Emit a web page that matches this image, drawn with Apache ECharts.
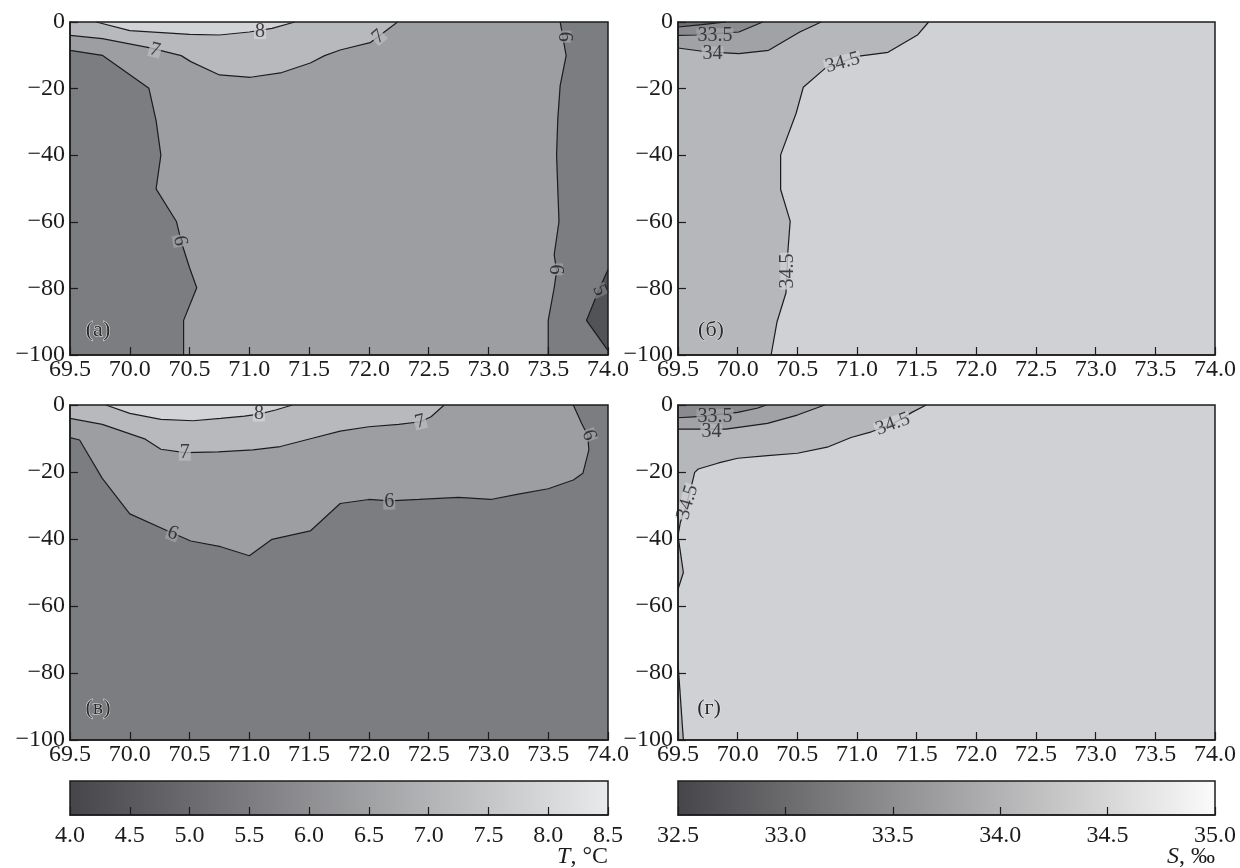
<!DOCTYPE html>
<html><head><meta charset="utf-8">
<script src="https://cdn.jsdelivr.net/npm/echarts/dist/echarts.min.js"></script>
<style>html,body{margin:0;padding:0;background:#fff}#c{width:1240px;height:868px}</style>
</head><body><div id="c"></div>
<script>
// ---------- axes / ticks ----------
const lonTicks = [69.5, 70.0, 70.5, 71.0, 71.5, 72.0, 72.5, 73.0, 73.5, 74.0];
const depthTicks = [-100, -80, -60, -40, -20, 0];
const tTicks = [4.0, 4.5, 5.0, 5.5, 6.0, 6.5, 7.0, 7.5, 8.0, 8.5];
const sTicks = [32.5, 33.0, 33.5, 34.0, 34.5, 35.0];
const panelNames = ['(а)', '(б)', '(в)', '(г)'];
const tUnit = ['T', ', °C'];
const sUnit = ['S', ', ‰'];

// ---------- contour lines [lon, depth] ----------
// panel (а) temperature
const tA8 = [[69.72,0],[70.0,-2.6],[70.5,-3.7],[70.75,-3.9],[71.0,-3.0],[71.19,-1.9],[71.38,0]];
const tA7 = [[69.5,-4.0],[69.77,-5.0],[70.16,-7.7],[70.43,-10.1],[70.51,-11.9],[70.75,-15.9],[71.01,-16.6],[71.26,-15.3],[71.51,-12.3],[71.63,-10.1],[71.76,-8.4],[72.01,-6.2],[72.24,0]];
const tA6L = [[69.5,-8.5],[69.77,-10.0],[70.16,-19.9],[70.22,-29.6],[70.26,-40.0],[70.22,-50.1],[70.39,-59.9],[70.43,-65.9],[70.50,-73.8],[70.56,-79.8],[70.45,-89.6],[70.45,-100]];
const tA6R = [[73.60,0],[73.65,-10.1],[73.60,-19.1],[73.58,-29.1],[73.57,-40],[73.58,-50],[73.59,-59.9],[73.55,-69.9],[73.57,-74.8],[73.55,-79.8],[73.50,-89.6],[73.50,-100]];
const tA5 = [[74.0,-74.3],[73.92,-80.8],[73.82,-89.6],[74.0,-98.7]];
const tALabels = [[71.09,-2.9,'8'],[70.21,-8.4,'7'],[72.08,-4.4,'7'],[70.42,-65.7,'6'],[73.63,-4.4,'6'],[73.56,-74.3,'6'],[73.93,-80.6,'5']];
const tALabelRot = [0,-15,40,-80,-90,-90,-65];

// panel (б) salinity
const sB33 = [[69.5,-1.5],[69.7,-0.8],[69.9,0]];
const sB335 = [[69.5,-4.0],[69.65,-3.9],[70.01,-3.0],[70.21,0]];
const sB34 = [[69.5,-7.8],[69.75,-9.0],[70.01,-9.5],[70.26,-8.5],[70.52,-3.0],[70.70,0]];
const sB345 = [[71.60,0],[71.51,-3.8],[71.26,-9.1],[71.0,-10.3],[70.73,-14.0],[70.55,-19.6],[70.49,-27.4],[70.36,-39.9],[70.36,-50.3],[70.44,-59.8],[70.42,-69.3],[70.405,-81.3],[70.33,-90.0],[70.28,-100]];
const sBLabels = [[69.81,-4.1,'33.5'],[69.79,-9.6,'34'],[70.88,-12.2,'34.5'],[70.42,-74.8,'34.5']];
const sBLabelRot = [0,0,15,90];

// panel (в) temperature
const tC8 = [[69.80,0],[70.0,-2.5],[70.26,-4.3],[70.53,-4.7],[70.76,-4.0],[70.96,-3.3],[71.08,-2.7],[71.22,-1.5],[71.36,0]];
const tC7 = [[69.5,-4.0],[69.77,-5.8],[70.13,-10.2],[70.26,-13.2],[70.46,-14.2],[70.74,-14.0],[71.03,-13.4],[71.26,-12.4],[71.52,-10.0],[71.76,-7.8],[72.0,-6.5],[72.25,-5.8],[72.43,-5.0],[72.52,-3.5],[72.63,0]];
const tC6 = [[69.5,-9.75],[69.58,-10.45],[69.77,-21.9],[70.0,-32.5],[70.30,-37.3],[70.51,-40.6],[70.76,-42.3],[71.0,-45.0],[71.19,-40.1],[71.51,-37.6],[71.76,-29.4],[72.0,-28.2],[72.17,-28.6],[72.42,-28.2],[72.75,-27.6],[73.02,-28.2],[73.25,-26.6],[73.5,-25.0],[73.71,-22.4],[73.79,-20.4],[73.84,-13.4],[73.83,-9.0],[73.78,-5.5],[73.71,0]];
const tCLabels = [[71.08,-2.7,'8'],[70.46,-14.4,'7'],[72.43,-5.0,'7'],[70.36,-38.3,'6'],[72.17,-29.0,'6'],[73.84,-9.0,'6']];
const tCLabelRot = [0,0,15,-20,0,-70];

// panel (г) salinity
const sD335 = [[69.5,-3.8],[69.7,-3.4],[70.0,-2.2],[70.17,-0.9],[70.24,0]];
const sD34 = [[69.5,-7.2],[69.9,-7.2],[70.25,-5.5],[70.5,-3.0],[70.73,0]];
const sD345 = [[71.58,0],[71.46,-2.2],[71.30,-5.7],[71.12,-8.0],[70.95,-9.7],[70.75,-12.6],[70.50,-14.4],[70.25,-15.1],[70.0,-15.9],[69.84,-17.3],[69.67,-19.1],[69.64,-20.1],[69.60,-26.0],[69.56,-31.0],[69.52,-35.0],[69.5,-39.0]];
const sD345b = [[69.5,-39.0],[69.545,-50.0],[69.5,-55.0]];
const sD345c = [[69.5,-77.0],[69.545,-100]];
const sDLabels = [[69.81,-3.4,'33.5'],[69.78,-8.0,'34'],[71.30,-5.7,'34.5'],[69.58,-29.0,'34.5']];
const sDLabelRot = [0,0,20,74];

// ---------- styles ----------
const FONT = 'Liberation Serif';
const INK = '#1c1c1c';
const tBand = {lt5:'#525357', b5:'#7c7d81', b6:'#9d9ea2', b7:'#b8b9bd', b8:'#d2d3d6'};
const sBand = {lt33:'#6e6f73', b33:'#8a8b8f', b335:'#a1a2a6', b34:'#b6b7bb', b345:'#d0d1d4'};
const tLabelBg = {'5':tBand.b5,'6':tBand.b6,'7':tBand.b7,'8':tBand.b8};
const sLabelBg = {'33.5':sBand.b335,'34':sBand.b34,'34.5':sBand.b345};

const X0 = lonTicks[0], X1 = lonTicks[lonTicks.length-1];
const Y0 = depthTicks[0], Y1 = depthTicks[depthTicks.length-1];
const full = [[X0,Y1],[X1,Y1],[X1,Y0],[X0,Y0]];
const TL = [X0,Y1], BL = [X0,Y0], BR = [X1,Y0], TR = [X1,Y1];
const close = (line, corners) => line.concat(corners);

const regions = [
  [ {pts:full,color:tBand.b6},
    {pts:close(tA6L,[BL]),color:tBand.b5},
    {pts:close(tA6R,[BR,TR]),color:tBand.b5},
    {pts:tA5,color:tBand.lt5},
    {pts:close(tA7,[TL]),color:tBand.b7},
    {pts:tA8,color:tBand.b8} ],
  [ {pts:full,color:sBand.b345},
    {pts:close(sB345,[BL,TL]),color:sBand.b34},
    {pts:close(sB34,[TL]),color:sBand.b335},
    {pts:close(sB335,[TL]),color:sBand.b33},
    {pts:close(sB33,[TL]),color:sBand.lt33} ],
  [ {pts:full,color:tBand.b5},
    {pts:close(tC6,[TL]),color:tBand.b6},
    {pts:close(tC7,[TL]),color:tBand.b7},
    {pts:tC8,color:tBand.b8} ],
  [ {pts:full,color:sBand.b345},
    {pts:close(sD345,[TL]),color:sBand.b34},
    {pts:sD345b,color:sBand.b34},
    {pts:close(sD345c,[BL]),color:sBand.b34},
    {pts:close(sD34,[TL]),color:sBand.b335},
    {pts:close(sD335,[TL]),color:sBand.b33} ]
];
const contourLines = [
  [tA8,tA7,tA6L,tA6R,tA5],
  [sB33,sB335,sB34,sB345],
  [tC8,tC7,tC6],
  [sD335,sD34,sD345,sD345b,sD345c]
];
const labelSets = [
  {pts:tALabels, rot:tALabelRot, bg:tLabelBg},
  {pts:sBLabels, rot:sBLabelRot, bg:sLabelBg},
  {pts:tCLabels, rot:tCLabelRot, bg:tLabelBg},
  {pts:sDLabels, rot:sDLabelRot, bg:sLabelBg}
];

const grids = [
  {left:70, top:22, width:538, height:333},
  {left:678, top:22, width:537, height:333},
  {left:70, top:405, width:538, height:335},
  {left:678, top:405, width:537, height:335},
  {left:70, top:781, width:538, height:34},
  {left:678, top:781, width:537, height:34}
];

const labelFont = {fontFamily:FONT, fontSize:24, color:INK};
const xAxes = [], yAxes = [], series = [];
for (let i=0;i<4;i++){
  xAxes.push({type:'value', gridIndex:i, min:X0, max:X1, interval:lonTicks[1]-lonTicks[0], z:10,
    axisLine:{show:true, onZero:false, lineStyle:{color:INK, width:1.5}},
    axisTick:{show:true, inside:true, length:8, lineStyle:{color:INK, width:1.2}},
    axisLabel:Object.assign({show:true, margin:3, showMinLabel:true, showMaxLabel:true, formatter:v=>v.toFixed(1)}, labelFont),
    splitLine:{show:false}});
  yAxes.push({type:'value', gridIndex:i, min:Y0, max:Y1, interval:depthTicks[1]-depthTicks[0], z:10,
    axisLine:{show:true, onZero:false, lineStyle:{color:INK, width:1.5}},
    axisTick:{show:true, inside:true, length:8, lineStyle:{color:INK, width:1.2}},
    axisLabel:Object.assign({show:true, margin:5, showMinLabel:true, showMaxLabel:true, formatter:v=>v===0?'0':'\u2212'+Math.abs(v)}, labelFont),
    splitLine:{show:false}});
  const regs = regions[i];
  series.push({type:'custom', xAxisIndex:i, yAxisIndex:i, silent:true, animation:false, clip:true, z:2,
    data: regs.map((r,k)=>[r.pts[0][0], r.pts[0][1], k]),
    renderItem:(params, api)=>{
      const r = regs[params.dataIndex];
      return {type:'polygon', shape:{points:r.pts.map(p=>api.coord(p))}, style:{fill:r.color, stroke:r.color, lineWidth:0.6}};
    }});
  contourLines[i].forEach(line=>{
    series.push({type:'line', xAxisIndex:i, yAxisIndex:i, data:line, symbol:'none', silent:true, animation:false, z:3,
      lineStyle:{color:INK, width:1.2}, clip:true});
  });
  const ls = labelSets[i];
  series.push({type:'scatter', xAxisIndex:i, yAxisIndex:i, symbolSize:1, silent:true, animation:false, z:4,
    itemStyle:{color:'rgba(0,0,0,0)'},
    label:{show:true, position:'inside', fontFamily:FONT, fontSize:20, color:INK, padding:[0,1], lineHeight:15},
    data: ls.pts.map((p,k)=>({value:[p[0],p[1]], label:{formatter:p[2], rotate:ls.rot[k], backgroundColor:ls.bg[p[2]]}}))});
  // panel frame
  series.push({type:'custom', xAxisIndex:i, yAxisIndex:i, silent:true, animation:false, z:5,
    data:[[X0,Y0]],
    renderItem:(params, api)=>{
      const a = api.coord([X0,Y1]), b = api.coord([X1,Y0]);
      return {type:'rect', shape:{x:a[0], y:a[1], width:b[0]-a[0], height:b[1]-a[1]}, style:{fill:null, stroke:INK, lineWidth:1.5}};
    }});
}
// colorbars
const bars = [
  {ticks:tTicks, c0:'#46464a', c1:'#e9eaec'},
  {ticks:sTicks, c0:'#46464a', c1:'#fbfbfb'}
];
bars.forEach((b,j)=>{
  const gi = 4+j;
  const lo = b.ticks[0], hi = b.ticks[b.ticks.length-1];
  xAxes.push({type:'value', gridIndex:gi, min:lo, max:hi, interval:b.ticks[1]-b.ticks[0], z:10,
    axisLine:{show:true, onZero:false, lineStyle:{color:INK, width:1.5}},
    axisTick:{show:true, inside:true, length:8, lineStyle:{color:INK, width:1.2}},
    axisLabel:Object.assign({show:true, margin:9, showMinLabel:true, showMaxLabel:true, formatter:v=>v.toFixed(1)}, labelFont),
    splitLine:{show:false}});
  yAxes.push({type:'value', gridIndex:gi, min:0, max:1, show:false});
  series.push({type:'custom', xAxisIndex:gi, yAxisIndex:gi, silent:true, animation:false, z:2,
    data:[[lo,0]],
    renderItem:(params, api)=>{
      const a = api.coord([lo,1]), c = api.coord([hi,0]);
      return {type:'rect', shape:{x:a[0], y:a[1], width:c[0]-a[0], height:c[1]-a[1]},
        style:{fill:new echarts.graphic.LinearGradient(0,0,1,0,[{offset:0,color:b.c0},{offset:1,color:b.c1}]), stroke:INK, lineWidth:1.5}};
    }});
});

const letterPos = [[98,330],[711,330],[98,708],[709,708]];
const graphic = panelNames.map((t,k)=>({type:'text', x:letterPos[k][0], y:letterPos[k][1], z:20,
  style:{text:t, fontFamily:FONT, fontSize:22, fill:'#2a2a2a', stroke:'#e8e8e8', lineWidth:1, align:'center', verticalAlign:'middle'}}));
[[tUnit,608],[sUnit,1215]].forEach(([u,xr])=>{
  graphic.push({type:'text', x:xr, y:857, z:20,
    style:{text:'{i|'+u[0]+'}{n|'+u[1]+'}', align:'right', verticalAlign:'middle',
      rich:{i:{fontFamily:FONT, fontSize:24, fontStyle:'italic', fill:INK, color:INK}, n:{fontFamily:FONT, fontSize:24, fill:INK, color:INK}}}});
});

const chart = echarts.init(document.getElementById('c'), null, {renderer:'canvas', width:1240, height:868});
chart.setOption({backgroundColor:'#ffffff', animation:false, grid:grids, xAxis:xAxes, yAxis:yAxes, series:series, graphic:graphic});
</script></body></html>
